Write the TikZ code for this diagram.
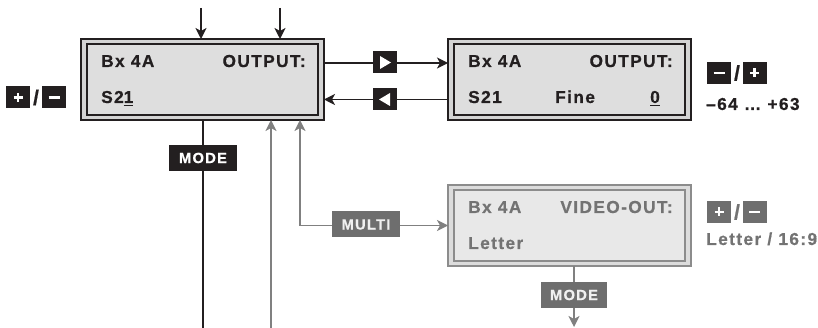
\documentclass[tikz,border=0pt]{standalone}
\usepackage{fontspec}
\setmainfont{Liberation Sans}[LetterSpace=8, BoldFeatures={FakeBold=0.6}]
\usetikzlibrary{arrows.meta}
\definecolor{ink}{HTML}{231F20}
\definecolor{lcdband}{HTML}{D4D4D4}
\definecolor{lcdfill}{HTML}{DEDEDE}
\definecolor{gline}{HTML}{808080}
\definecolor{gtext}{HTML}{737373}
\definecolor{glabel}{HTML}{6E6E6E}
\definecolor{gband}{HTML}{DCDCDC}
\definecolor{gfill}{HTML}{E8E8E8}
\definecolor{gborder}{HTML}{8C8C8C}
\newcommand\myul[1]{\setbox0\hbox{#1}\rlap{\raisebox{-3.5pt}{\rule{\wd0}{1.7pt}}}\box0}
\begin{document}
\begin{tikzpicture}[x=1pt,y=-1pt,
  lcdout/.style={draw=ink, line width=1.1pt, fill=lcdband, minimum width=243pt, minimum height=81pt, inner sep=0pt, outer sep=0pt},
  lcdin/.style={draw=ink, line width=1.7pt, fill=lcdfill, minimum width=231pt, minimum height=71pt, inner sep=0pt},
  glcdout/.style={lcdout, draw=gborder, fill=gband},
  glcdin/.style={lcdin, draw=gborder, fill=gfill},
  txt/.style={font=\fontsize{17.3}{17.3}\selectfont\bfseries, text=ink, inner sep=0pt, anchor=base west},
  gtxt/.style={txt, text=gtext},
  key/.style={fill=ink, minimum width=24pt, minimum height=22pt, inner sep=0pt},
  gkey/.style={key, fill=glabel},
  sym/.style={draw=white, line width=2.4pt},
  slash/.style={font=\fontsize{21}{21}\selectfont\bfseries, text=ink, inner sep=0pt},
  lab/.style={fill=ink, text=white, font=\fontsize{14.8}{14.8}\selectfont\bfseries, inner sep=0pt, minimum height=26pt, minimum width=68pt},
  glab/.style={lab, fill=glabel, text=white!94!black},
  head/.tip={Stealth[length=11pt,width=11pt,inset=3pt]},
  tip/.style={-head},
  ln/.style={draw=ink, line width=1.6pt},
  arr/.style={ln, tip},
  gln/.style={draw=gline, line width=1.6pt},
  garr/.style={gln, tip}
]
\useasboundingbox (0,0) rectangle (818,328);

% ---------- LCD boxes ----------
\node[lcdout] (b1) at (202.5,79.5) {};
\node[lcdin] (b1i) at (b1.center) {};
\node[lcdout] (b2) at (569.5,79.5) {};
\node[lcdin] (b2i) at (b2.center) {};
\node[glcdout] (b3) at (569.5,225.5) {};
\node[glcdin] (b3i) at (b3.center) {};

% ---------- texts in boxes ----------
\node[txt] (t1a) at (101,67) {Bx 4A};
\node[txt, anchor=base east] (t1b) at (306,67) {OUTPUT:};
\node[txt] (t1c) at (101,103) {S2\myul{1}};

\node[txt] (t2a) at (468,67) {Bx 4A};
\node[txt, anchor=base east] (t2b) at (673,67) {OUTPUT:};
\node[txt] (t2c) at (468,103) {S21};
\node[txt] (t2d) at (555,103) {Fine};
\node[txt] (t2e) at (650,103) {\myul{0}};

\node[gtxt] (t3a) at (468,213) {Bx 4A};
\node[gtxt, anchor=base east] (t3b) at (673,213) {VIDEO-OUT:};
\node[gtxt] (t3c) at (468,249) {Letter};

% ---------- top arrows ----------
\coordinate (top1) at (201,8);
\coordinate (top2) at (280,8);
\draw[arr] (top1) -- (top1 |- b1.north);
\draw[arr] (top2) -- (top2 |- b1.north);

% ---------- arrows between box 1 and box 2 ----------
\coordinate (kRc) at (385,63);
\coordinate (kLc) at (385,99.5);
\draw[arr] (b1.east |- kRc) -- (b2.west |- kRc);
\draw[arr] (b2.west |- kLc) -- (b1.east |- kLc);
\node[key] (kR) at (385,62.5) {};
\fill[white] (kR.center) ++(-5,-6.5) -- ++(0,13) -- ++(11,-6.5) -- cycle;
\node[key] (kL) at (385,99.5) {};
\fill[white] (kL.center) ++(5,-6.5) -- ++(0,13) -- ++(-11,-6.5) -- cycle;

% ---------- left +/- ----------
\node[key] (lp) at (18,97.5) {};
\draw[sym] (lp.center) ++(-4.5,0) -- ++(9,0);
\draw[sym] (lp.center) ++(0,-4.5) -- ++(0,9);
\node[slash] (ls) at (36,97.5) {/};
\node[key] (lm) at (54,97.5) {};
\draw[sym] (lm.center) ++(-5.5,0) -- ++(11,0);

% ---------- right of box 2 ----------
\node[key] (rm) at (719,73) {};
\draw[sym] (rm.center) ++(-5.5,0) -- ++(11,0);
\node[slash] (rs) at (737,73) {/};
\node[key] (rp) at (754.5,73) {};
\draw[sym] (rp.center) ++(-4.5,0) -- ++(9,0);
\draw[sym] (rp.center) ++(0,-4.5) -- ++(0,9);
\node[txt] (rng) at (706,110) {–64 … +63};

% ---------- right of box 3 ----------
\node[gkey] (gp) at (719,212) {};
\draw[sym] (gp.center) ++(-4.5,0) -- ++(9,0);
\draw[sym] (gp.center) ++(0,-4.5) -- ++(0,9);
\node[slash, text=gtext] (gs) at (737,212) {/};
\node[gkey] (gm) at (754.5,212) {};
\draw[sym] (gm.center) ++(-5.5,0) -- ++(11,0);
\node[gtxt] (lt) at (706,245) {Letter / 16:9};

% ---------- bottom of box 1 ----------
\coordinate (bot1) at (203,328);
\draw[ln] (b1.south -| bot1) -- (bot1);
\node[lab] (mode1) at (203,158) {MODE};

\coordinate (g1) at (271,328);
\draw[garr] (g1) -- (g1 |- b1.south);
\coordinate (g2) at (300,225.5);
\draw[gln, head-head] (b3.west) -- (g2) -- (g2 |- b1.south);
\node[glab] (multi) at (366,224.5) {MULTI};

% ---------- bottom of box 3 ----------
\coordinate (bot3) at (574,327);
\draw[garr] (b3.south -| bot3) -- (bot3);
\node[glab, minimum width=66pt] (mode3) at (574,295) {MODE};
\end{tikzpicture}
\end{document}
